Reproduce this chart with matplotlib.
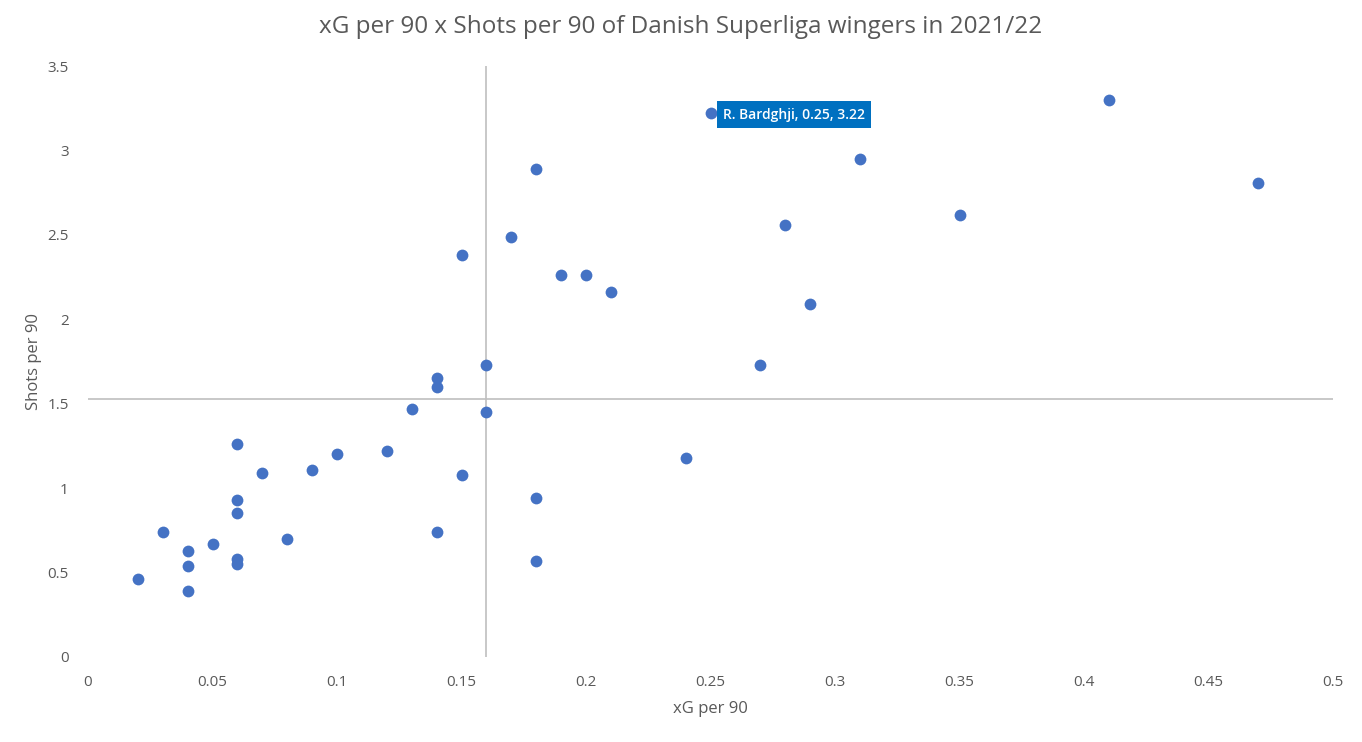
import numpy as np
import matplotlib.pyplot as plt
from matplotlib.ticker import FuncFormatter, MultipleLocator

# xG per 90 and shots per 90
xg_per90 = [0.02, 0.03, 0.04, 0.04, 0.04, 0.05, 0.06, 0.06, 0.06, 0.06,
            0.06, 0.07, 0.08, 0.09, 0.10, 0.12, 0.13, 0.14, 0.14, 0.14,
            0.15, 0.15, 0.16, 0.16, 0.17, 0.18, 0.18, 0.18, 0.19, 0.20,
            0.21, 0.24, 0.25, 0.27, 0.28, 0.29, 0.31, 0.35, 0.41, 0.47]
shots_per90 = [0.46, 0.74, 0.63, 0.54, 0.39, 0.67, 1.26, 0.93, 0.85, 0.58,
               0.55, 1.09, 0.70, 1.11, 1.20, 1.22, 1.47, 1.65, 1.60, 0.74,
               2.38, 1.08, 1.73, 1.45, 2.49, 2.89, 0.94, 0.57, 2.26, 2.26,
               2.16, 1.18, 3.22, 1.73, 2.56, 2.09, 2.95, 2.62, 3.30, 2.81]

# league averages used as the quadrant lines
avg_xg = 0.16
avg_shots = 1.53

label_player = "R. Bardghji"
label_xy = (0.25, 3.22)

plt.rcParams['font.family'] = ['Open Sans', 'DejaVu Sans']

fig = plt.figure(figsize=(13.62, 7.42), dpi=100)
ax = fig.add_axes([88/1362, 1 - 657/742, (1333 - 88)/1362, (657 - 66)/742])

ax.axvline(avg_xg, color='#bfbfbf', lw=1.2, zorder=1)
ax.axhline(avg_shots, color='#bfbfbf', lw=1.2, zorder=1)

ax.scatter(xg_per90, shots_per90, s=72, color='#4472c4', zorder=3, linewidths=0)

ax.annotate(f"{label_player}, {label_xy[0]:g}, {label_xy[1]:g}", xy=label_xy,
            xytext=(9, -1), textcoords='offset points', va='center', ha='left',
            color='white', fontsize=10, fontweight='semibold',
            bbox=dict(boxstyle='square,pad=0.45', fc='#0070c0', ec='none'), zorder=4)

ax.set_xlim(0, 0.5)
ax.set_ylim(0, 3.5)
ax.xaxis.set_major_locator(MultipleLocator(0.05))
ax.yaxis.set_major_locator(MultipleLocator(0.5))
fmt = FuncFormatter(lambda v, p: f"{round(v, 2):g}")
ax.xaxis.set_major_formatter(fmt)
ax.yaxis.set_major_formatter(fmt)
ax.tick_params(length=0, colors='#595959', labelsize=11)
ax.tick_params(axis='x', pad=13)
ax.tick_params(axis='y', pad=14)
for s in ax.spines.values():
    s.set_visible(False)

ax.set_xlabel('xG per 90', color='#595959', fontsize=12, labelpad=8)
ax.set_ylabel('Shots per 90', color='#595959', fontsize=12, labelpad=4)
fig.suptitle('xG per 90 x Shots per 90 of Danish Superliga wingers in 2021/22',
             color='#595959', fontsize=17.5, y=0.98)

plt.savefig('out.png', dpi=100)
